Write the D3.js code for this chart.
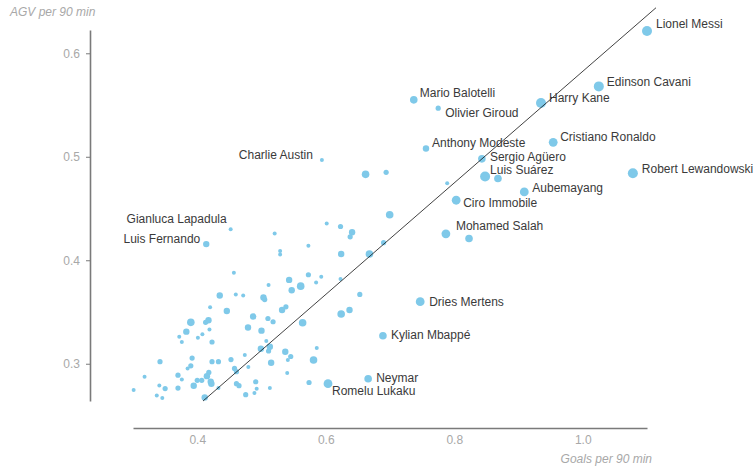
<!DOCTYPE html>
<html>
<head>
<meta charset="utf-8">
<script src="https://cdn.jsdelivr.net/npm/d3@7"></script>
<style>
  body { margin: 0; background: #fff; }
  svg { display: block; font-family: "Liberation Sans", Arial, sans-serif; }
  .axis path { stroke: #7a7a7a; stroke-width: 1.6; }
  .axis line { stroke: #7a7a7a; }
  .axis text { fill: #a8a8a8; font-size: 12px; }
  .title { fill: #a8a8a8; font-size: 12px; font-style: italic; }
  .label { fill: #3a3a3a; font-size: 12px; }
</style>
</head>
<body>
<script>
// Named players first, unnamed ones after ('' = no label)
const players = [
    'Lionel Messi', 'Edinson Cavani', 'Harry Kane', 'Mario Balotelli', 'Olivier Giroud',
    'Cristiano Ronaldo', 'Anthony Modeste', 'Sergio Agüero', 'Luis Suárez', 'Robert Lewandowski',
    'Aubemayang', 'Ciro Immobile', 'Mohamed Salah', 'Charlie Austin', 'Gianluca Lapadula',
    'Luis Fernando', 'Dries Mertens', 'Kylian Mbappé', 'Neymar', 'Romelu Lukaku'
];

const goals = [
    1.100, 1.025, 0.935, 0.737, 0.775, 0.954, 0.756, 0.843, 0.848, 1.078,
    0.909, 0.803, 0.787, 0.594, 0.452, 0.414, 0.747, 0.689, 0.666, 0.6035,
    0.868, 0.823, 0.789, 0.662, 0.694, 0.6995, 0.690, 0.668, 0.624, 0.6015,
    0.623, 0.641, 0.638, 0.5205, 0.573, 0.529, 0.529, 0.457, 0.511, 0.543,
    0.547, 0.561, 0.573, 0.585, 0.593, 0.623, 0.653, 0.624, 0.637, 0.564,
    0.538, 0.532, 0.503, 0.505, 0.4715, 0.460, 0.435, 0.420, 0.446, 0.487,
    0.510, 0.518, 0.479, 0.500, 0.390, 0.413, 0.4175, 0.419, 0.383, 0.372,
    0.376, 0.401, 0.408, 0.423, 0.342, 0.392, 0.390, 0.385, 0.423, 0.433,
    0.4525, 0.418, 0.415, 0.407, 0.400, 0.421, 0.422, 0.370, 0.376, 0.370,
    0.3945, 0.350, 0.341, 0.318, 0.301, 0.337, 0.3456, 0.4116, 0.433, 0.458,
    0.461, 0.474, 0.461, 0.465, 0.4754, 0.4795, 0.491, 0.4925, 0.489, 0.513,
    0.499, 0.513, 0.511, 0.5075, 0.515, 0.537, 0.5455, 0.541, 0.581, 0.586,
    0.540, 0.574
];

const agv = [
    0.6215, 0.568, 0.552, 0.555, 0.547, 0.514, 0.508, 0.498, 0.481, 0.484,
    0.466, 0.458, 0.4255, 0.497, 0.430, 0.4156, 0.360, 0.327, 0.2855, 0.2807,
    0.479, 0.421, 0.4745, 0.483, 0.485, 0.444, 0.417, 0.406, 0.406, 0.4355,
    0.4326, 0.427, 0.4226, 0.4258, 0.414, 0.409, 0.4055, 0.388, 0.376, 0.381,
    0.371, 0.375, 0.386, 0.3785, 0.384, 0.382, 0.367, 0.348, 0.352, 0.3396,
    0.355, 0.352, 0.364, 0.362, 0.366, 0.367, 0.366, 0.3546, 0.351, 0.3456,
    0.3437, 0.3406, 0.335, 0.332, 0.340, 0.340, 0.342, 0.333, 0.331, 0.326,
    0.321, 0.325, 0.3285, 0.321, 0.302, 0.3055, 0.298, 0.2955, 0.302, 0.302,
    0.304, 0.2916, 0.288, 0.284, 0.284, 0.2826, 0.2807, 0.289, 0.2848, 0.2765,
    0.2788, 0.276, 0.279, 0.2874, 0.2746, 0.2694, 0.2669, 0.2675, 0.2765, 0.2955,
    0.2923, 0.3084, 0.2807, 0.2788, 0.2701, 0.2969, 0.2826, 0.2759, 0.2717, 0.2765,
    0.3145, 0.3164, 0.3123, 0.322, 0.301, 0.3116, 0.307, 0.3036, 0.3036, 0.3152,
    0.291, 0.2819
];

// relative weight of each player (drives dot size)
const weight = [
    6, 6, 6, 4, 2, 5, 3, 4, 6, 6,
    5, 5, 5, 1, 1, 3, 5, 4, 4, 5,
    4, 4, 1, 4, 2, 4, 2, 4, 3, 1,
    2, 3, 2, 1, 1, 1, 1, 1, 1, 3,
    3, 4, 2, 1, 1, 1, 2, 4, 3, 4,
    2, 3, 3, 2, 1, 1, 3, 1, 3, 3,
    2, 2, 3, 3, 4, 2, 3, 1, 3, 1,
    1, 1, 1, 2, 2, 2, 2, 1, 2, 2,
    2, 2, 3, 2, 2, 3, 3, 2, 1, 2,
    3, 2, 1, 1, 1, 1, 1, 3, 1, 2,
    2, 1, 2, 2, 2, 1, 2, 1, 1, 1,
    3, 3, 2, 1, 3, 3, 2, 1, 4, 1,
    1, 2
];

// trend line end points
const trendGoals = [0.409, 1.114];
const trendAgv = [0.264, 0.644];

const xTicks = [0.4, 0.6, 0.8, 1.0];
const yTicks = [0.3, 0.4, 0.5, 0.6];

// label placement: dx, dy, anchor
const labelPos = {
    'Lionel Messi': [9, -7, 'start'],
    'Edinson Cavani': [8, -5, 'start'],
    'Harry Kane': [8, -5, 'start'],
    'Mario Balotelli': [6, -7, 'start'],
    'Olivier Giroud': [7, 5, 'start'],
    'Cristiano Ronaldo': [7, -5, 'start'],
    'Anthony Modeste': [6, -6, 'start'],
    'Sergio Agüero': [8, -2, 'start'],
    'Luis Suárez': [5, -7, 'start'],
    'Robert Lewandowski': [9, -5, 'start'],
    'Aubemayang': [8, -4, 'start'],
    'Ciro Immobile': [7, 3, 'start'],
    'Mohamed Salah': [10, -8, 'start'],
    'Charlie Austin': [-9, -5, 'end'],
    'Gianluca Lapadula': [-4, -10, 'end'],
    'Luis Fernando': [-6, -5, 'end'],
    'Dries Mertens': [9, 0, 'start'],
    'Kylian Mbappé': [8, -1, 'start'],
    'Neymar': [8, -1, 'start'],
    'Romelu Lukaku': [4, 7, 'start']
};

const width = 753, height = 468;

const data = goals.map((g, i) => ({
    name: players[i] || '',
    goals: g,
    agv: agv[i],
    weight: weight[i]
}));

let svg = d3.select('body')
    .append('svg')
    .attr('width', width)
    .attr('height', height);

const x = d3.scaleLinear().domain([0.3, 1.1]).range([133, 647]);
const y = d3.scaleLinear().domain([0.264, 0.6225]).range([401, 30]);
const r = d3.scaleLinear().domain([1, 6]).range([2, 5]);

// y axis
svg.append('g')
    .attr('class', 'axis')
    .attr('transform', 'translate(90,0)')
    .call(d3.axisLeft(y).tickValues(yTicks).tickFormat(d3.format('.1f')).tickSize(4).tickSizeOuter(0).tickPadding(6))
    .call(g => g.selectAll('text').attr('font-family', null));

// x axis
svg.append('g')
    .attr('class', 'axis')
    .attr('transform', 'translate(0,428)')
    .call(d3.axisBottom(x).tickValues(xTicks).tickFormat(d3.format('.1f')).tickSize(0).tickSizeOuter(0).tickPadding(7))
    .call(g => g.selectAll('text').attr('font-family', null));

svg.append('text')
    .attr('class', 'title')
    .attr('x', 10)
    .attr('y', 16)
    .text('AGV per 90 min');

svg.append('text')
    .attr('class', 'title')
    .attr('text-anchor', 'end')
    .attr('x', 652)
    .attr('y', 463)
    .text('Goals per 90 min');

// dots
svg.append('g')
    .selectAll('circle')
    .data(data)
    .join('circle')
    .attr('cx', d => x(d.goals))
    .attr('cy', d => y(d.agv))
    .attr('r', d => r(d.weight))
    .attr('fill', '#7fc9e9');

// trend line
svg.append('line')
    .attr('x1', x(trendGoals[0]))
    .attr('y1', y(trendAgv[0]))
    .attr('x2', x(trendGoals[1]))
    .attr('y2', y(trendAgv[1]))
    .attr('stroke', '#111')
    .attr('stroke-width', 0.8);

// labels
svg.append('g')
    .selectAll('text')
    .data(data.filter(d => d.name))
    .join('text')
    .attr('class', 'label')
    .attr('x', d => x(d.goals) + labelPos[d.name][0])
    .attr('y', d => y(d.agv) + labelPos[d.name][1])
    .attr('dy', '0.35em')
    .attr('text-anchor', d => labelPos[d.name][2])
    .text(d => d.name);
</script>
</body>
</html>
